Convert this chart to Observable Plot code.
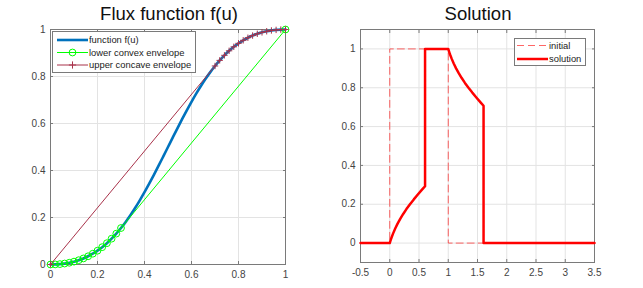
<!DOCTYPE html>
<html>
<head>
<meta charset="utf-8">
<script src="https://cdn.jsdelivr.net/npm/d3@7"></script>
<script src="https://cdn.jsdelivr.net/npm/@observablehq/plot@0.6"></script>
<style>
  body { margin: 0; background: #fff; }
  #wrap { position: relative; width: 643px; height: 288px; background: #fff; font-family: "Liberation Sans", Arial, sans-serif; }
  .title { position: absolute; top: 5px; font-size: 18.5px; line-height: 1; color: #111; text-align: center; white-space: nowrap; }
  .pane { position: absolute; top: 0; }
  .legend { position: absolute; }
</style>
</head>
<body>
<div id="wrap">
  <div class="title" style="left:69px;width:200px;">Flux function f(u)</div>
  <div class="title" style="left:378px;width:200px;">Solution</div>
  <div id="left" class="pane" style="left:0px"></div>
  <div id="right" class="pane" style="left:320px"></div>
</div>
<script>
// ---- Left panel data: flux function f(u) sampled on u = 0:0.02:1 ----
const uGrid = [0,0.02,0.04,0.06,0.08,0.10,0.12,0.14,0.16,0.18,0.20,0.22,0.24,0.26,0.28,0.30,
  0.32,0.34,0.36,0.38,0.40,0.42,0.44,0.46,0.48,0.50,0.52,0.54,0.56,0.58,0.60,0.62,0.64,0.66,
  0.68,0.70,0.72,0.74,0.76,0.78,0.80,0.82,0.84,0.86,0.88,0.90,0.92,0.94,0.96,0.98,1.00];
const fVals = [0,0.0004,0.0017,0.0041,0.0075,0.0122,0.0183,0.0258,0.0350,0.0460,0.0588,0.0737,
  0.0907,0.1099,0.1314,0.1552,0.1813,0.2097,0.2404,0.2731,0.3077,0.3440,0.3817,0.4205,0.4601,
  0.5000,0.5399,0.5795,0.6183,0.6560,0.6923,0.7269,0.7596,0.7903,0.8187,0.8448,0.8686,0.8901,
  0.9093,0.9263,0.9412,0.9540,0.9650,0.9742,0.9817,0.9878,0.9925,0.9959,0.9983,0.9996,1.0000];
// lower convex envelope vertices
const lowerU = [0,0.02,0.04,0.06,0.08,0.10,0.12,0.14,0.16,0.18,0.20,0.22,0.24,0.26,0.28,0.30,1.00];
const lowerF = [0,0.0004,0.0017,0.0041,0.0075,0.0122,0.0183,0.0258,0.0350,0.0460,0.0588,0.0737,
  0.0907,0.1099,0.1314,0.1552,1.0000];
// upper concave envelope vertices
const upperU = [0,0.70,0.72,0.74,0.76,0.78,0.80,0.82,0.84,0.86,0.88,0.90,0.92,0.94,0.96,0.98,1.00];
const upperF = [0,0.8448,0.8686,0.8901,0.9093,0.9263,0.9412,0.9540,0.9650,0.9742,0.9817,0.9878,
  0.9925,0.9959,0.9983,0.9996,1.0000];
const leftTicks = [0,0.2,0.4,0.6,0.8,1];

// ---- Right panel data ----
const initX = [-0.5,0,0,1,1,3.5];
const initU = [0,0,1,1,0,0];
const solX = [-0.5,0,0.0103,0.0212,0.0328,0.058,0.0935,0.134,0.179,0.230,0.285,0.346,0.411,0.48,0.5515,0.6036,
  0.6036,1,1.0103,1.0212,1.0328,1.058,1.0935,1.134,1.179,1.230,1.285,1.346,1.411,1.48,1.5515,1.6036,1.6036,3.5];
const solU = [0,0,0.01,0.02,0.03,0.05,0.075,0.10,0.125,0.15,0.175,0.20,0.225,0.25,0.275,0.2929,
  1,1,0.99,0.98,0.97,0.95,0.925,0.90,0.875,0.85,0.825,0.80,0.775,0.75,0.725,0.7071,0,0];
const rightXTicks = [-0.5,0,0.5,1,1.5,2,2.5,3,3.5];
const rightYTicks = [0,0.2,0.4,0.6,0.8,1];

const frameColor = "#7a7a7a";
const gridColor = "#e3e3e3";
const style = {fontFamily: "'Liberation Sans', Arial, sans-serif", fontSize: "10px", color: "#444", background: "transparent", overflow: "visible"};

const plusSym = {draw(ctx, size) { const r = Math.sqrt(size) / 2; ctx.moveTo(-r, 0); ctx.lineTo(r, 0); ctx.moveTo(0, -r); ctx.lineTo(0, r); }};
const fmtNum = d => String(d);

function tickAxes(xt, yt) {
  const fmt = () => "";
  return [
    Plot.gridX(xt, {stroke: gridColor, strokeOpacity: 1}),
    Plot.gridY(yt, {stroke: gridColor, strokeOpacity: 1}),
    Plot.axisX(xt, {anchor: "bottom", tickSize: 0, tickPadding: 6, tickFormat: fmtNum, label: null}),
    Plot.axisY(yt, {anchor: "left", tickSize: 0, tickPadding: 5, tickFormat: fmtNum, label: null}),
    Plot.axisX(xt, {anchor: "bottom", tickSize: -3, tickFormat: fmt, label: null, stroke: frameColor}),
    Plot.axisX(xt, {anchor: "top", tickSize: -3, tickFormat: fmt, label: null, stroke: frameColor}),
    Plot.axisY(yt, {anchor: "left", tickSize: -3, tickFormat: fmt, label: null, stroke: frameColor}),
    Plot.axisY(yt, {anchor: "right", tickSize: -3, tickFormat: fmt, label: null, stroke: frameColor}),
    Plot.frame({stroke: frameColor, strokeWidth: 1})
  ];
}

const fluxData = uGrid.map((u, i) => ({u, f: fVals[i]}));
const lowerData = lowerU.map((u, i) => ({u, f: lowerF[i]}));
const upperData = upperU.map((u, i) => ({u, f: upperF[i]}));

const left = Plot.plot({
  width: 320, height: 288,
  marginLeft: 50, marginRight: 35, marginTop: 29, marginBottom: 24,
  style,
  x: {domain: [0, 1]},
  y: {domain: [0, 1]},
  marks: [
    ...tickAxes(leftTicks, leftTicks),
    Plot.line(fluxData, {x: "u", y: "f", stroke: "#0072BD", strokeWidth: 2.6, curve: "monotone-x"}),
    Plot.line(lowerData, {x: "u", y: "f", stroke: "#00FF00", strokeWidth: 1}),
    Plot.dot(lowerData, {x: "u", y: "f", stroke: "#00FF00", fill: "none", r: 3.4, strokeWidth: 1}),
    Plot.line(upperData, {x: "u", y: "f", stroke: "#A8324A", strokeWidth: 1}),
    Plot.dot(upperData, {x: "u", y: "f", stroke: "#A8324A", fill: "none", symbol: plusSym, r: 3.6, strokeWidth: 1})
  ]
});
document.getElementById("left").appendChild(left);

const initData = initX.map((x, i) => ({x, u: initU[i]}));
const solData = solX.map((x, i) => ({x, u: solU[i]}));

const right = Plot.plot({
  width: 323, height: 288,
  marginLeft: 40, marginRight: 49, marginTop: 29, marginBottom: 26,
  style,
  x: {domain: [-0.5, 3.5]},
  y: {domain: [-0.1, 1.1]},
  marks: [
    ...tickAxes(rightXTicks, rightYTicks),
    Plot.line(initData, {x: "x", y: "u", stroke: "#ff0000", strokeOpacity: 0.6, strokeWidth: 1, strokeDasharray: "7,4"}),
    Plot.line(solData, {x: "x", y: "u", stroke: "#ff0000", strokeWidth: 2.5})
  ]
});
document.getElementById("right").appendChild(right);

// ---- legends ----
function legend(host, x, y, w, h, items) {
  const svg = d3.select(host).append("svg")
    .attr("class", "legend")
    .style("position", "absolute").style("left", x + "px").style("top", y + "px")
    .attr("width", w).attr("height", h);
  svg.append("rect").attr("x", 0.5).attr("y", 0.5).attr("width", w - 1).attr("height", h - 1)
    .attr("fill", "#fff").attr("stroke", frameColor);
  items.forEach(it => {
    const g = svg.append("g").attr("transform", `translate(0,${it.y})`);
    g.append("line").attr("x1", it.x1).attr("x2", it.x2).attr("y1", 0).attr("y2", 0)
      .attr("stroke", it.color).attr("stroke-width", it.width).attr("stroke-opacity", it.opacity || 1)
      .attr("stroke-dasharray", it.dash || null);
    const mx = (it.x1 + it.x2) / 2;
    if (it.marker === "circle") g.append("circle").attr("cx", mx).attr("cy", 0).attr("r", 3.4).attr("fill", "none").attr("stroke", it.color);
    if (it.marker === "plus") g.append("path").attr("d", `M${mx-3.6},0H${mx+3.6}M${mx},-3.6V3.6`).attr("stroke", it.color).attr("fill", "none");
    g.append("text").attr("x", it.x2 + 1).attr("y", 0).attr("dy", "0.35em")
      .attr("font-family", "'Liberation Sans', Arial, sans-serif").attr("font-size", "9.4px").attr("fill", "#222")
      .text(it.label);
  });
}
const wrap = document.getElementById("wrap");
legend(wrap, 52, 31, 144, 42, [
  {y: 9, x1: 5, x2: 36, color: "#0072BD", width: 2.6, label: "function f(u)"},
  {y: 21.5, x1: 5, x2: 36, color: "#00FF00", width: 1, marker: "circle", label: "lower convex envelope"},
  {y: 34, x1: 5, x2: 36, color: "#A8324A", width: 1, marker: "plus", label: "upper concave envelope"}
]);
legend(wrap, 514, 38, 72, 28, [
  {y: 7.5, x1: 3, x2: 34, color: "#ff0000", width: 1, opacity: 0.6, dash: "7,4", label: "initial"},
  {y: 21, x1: 3, x2: 34, color: "#ff0000", width: 2.5, label: "solution"}
]);
</script>
</body>
</html>
